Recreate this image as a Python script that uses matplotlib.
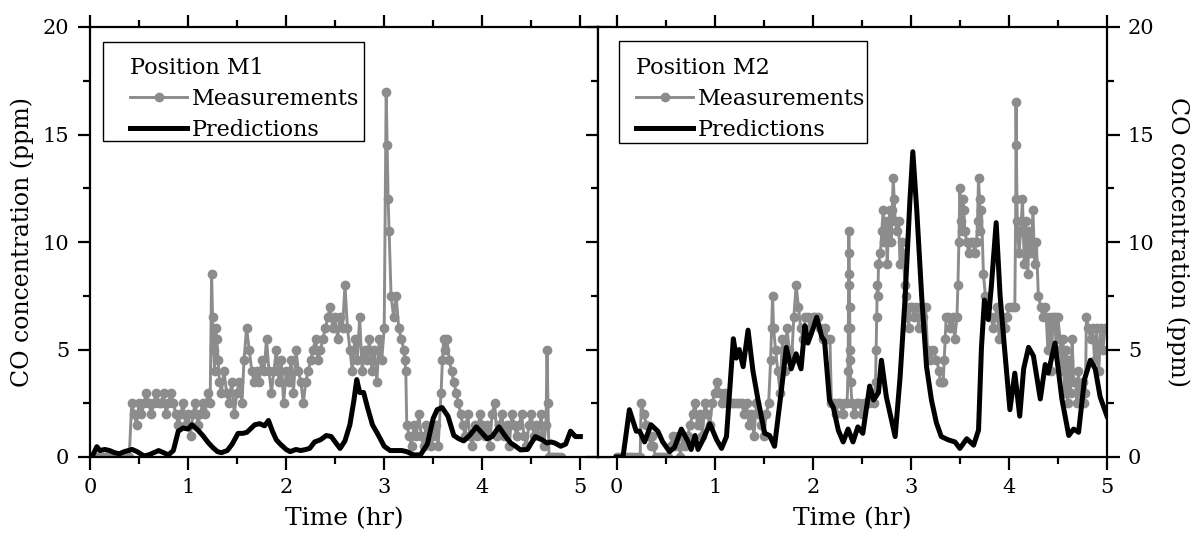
import numpy as np
import matplotlib
matplotlib.use("Agg")
from matplotlib import pyplot as plt
from matplotlib.patches import Rectangle
from matplotlib.ticker import MultipleLocator

plt.rc("font", family="DejaVu Serif", size=15)

# measured CO (ppm), read off the figure as runs of samples:
# (start hr, end hr, values spread evenly over the run)
m1_runs = [
    (0.00, 0.40, [0] * 17),
    (0.425, 0.85, [2.5, 2, 1.5, 2.5, 2, 2.5, 3, 2.5, 2, 2.5, 3, 2.5, 2.5, 3, 2, 2.5, 3, 2.5]),
    (0.875, 1.225, [2, 1.5, 2, 2.5, 1.5, 2, 1, 2, 2.5, 1.5, 2, 2.5, 2, 3, 2.5]),
    (1.24, 1.27, [8.5, 6.5, 5, 4]),
    (1.28, 1.32, [6, 5.5, 4.5, 3.5]),
    (1.34, 1.55, [3, 4, 3, 2.5, 3.5, 2, 3, 3.5, 2.5]),
    (1.57, 1.65, [4.5, 6, 5, 4]),
    (1.675, 2.0, [3.5, 4, 3.5, 4.5, 4, 5.5, 4, 3, 4, 5, 3.5, 4.5, 2.5, 4]),
    (2.025, 2.25, [3.5, 4.5, 3, 5, 4, 3.5, 2.5, 3.5, 4, 4.5]),
    (2.275, 2.375, [5, 5.5, 4.5, 5, 5.5]),
    (2.40, 2.575, [6, 6.5, 7, 6, 6.5, 5.5, 6.5, 6]),
    (2.60, 2.625, [8, 6]),
    (2.65, 3.0, [5, 4, 5.5, 4.5, 6.5, 4, 5, 4.5, 5.5, 4, 5, 3.5, 5.5, 4.5, 6]),
    (3.02, 3.05, [17, 14.5, 12, 10.5]),
    (3.07, 3.20, [7.5, 6.5, 7.5, 6, 5.5, 5]),
    (3.21, 3.22, [4.5, 4]),
    (3.23, 3.55, [1.5, 1, 0.5, 1.5, 1, 2, 1, 0.5, 1.5, 1, 0.5, 1, 1.5, 0.5]),
    (3.58, 3.62, [3, 4.5, 5.5, 5]),
    (3.64, 3.78, [5.5, 4.5, 4, 3.5, 3, 2.5, 2]),
    (3.80, 4.65, [1.5, 1, 2, 1, 0.5, 1.5, 1, 2, 1.5, 1, 1.5, 0.5, 2, 2.5, 1, 1.5, 2, 1,
                  1.5, 0.5, 2, 1.5, 1, 1.5, 2, 1, 0.5, 1.5, 2, 1, 1.5, 1, 2, 0.5, 1.5]),
    (4.66, 4.68, [5, 2.5, 0]),
    (4.70, 4.80, [0] * 5),
]

m2_runs = [
    (0.00, 0.24, [0] * 10),
    (0.25, 0.33, [2.5, 2, 1.5, 1]),
    (0.35, 0.37, [0.5, 1, 0.5]),
    (0.40, 0.525, [0] * 6),
    (0.55, 0.725, [0.5, 1, 0.5, 1, 0, 1, 0.5, 1]),
    (0.75, 0.95, [1.5, 2, 2.5, 1.5, 2, 1, 2.5, 2, 1.5]),
    (0.975, 1.125, [2.5, 3, 3.5, 3, 2.5, 3, 2.5]),
    (1.15, 1.55, [2.5, 2.5, 2.5, 2.5, 2.5, 2.5, 2, 2.5, 1.5, 2, 1, 2.5, 2, 1.5, 1, 2, 2.5]),
    (1.57, 1.60, [4.5, 6, 7.5, 6]),
    (1.62, 1.90, [5, 4, 3, 5.5, 4, 6, 5, 4.5, 6.5, 8, 7, 6, 5.5]),
    (1.925, 2.175, [6.5, 6.5, 6, 6.5, 6.5, 6.5, 6, 5.5, 6, 5.5, 5.5]),
    (2.19, 2.35, [2.5, 2.5, 2, 2.5, 2.5, 2, 2.5, 2.5]),
    (2.36, 2.385, [4, 6, 8, 10.5, 9.5, 8.5, 7, 6, 5, 4.5, 3.5]),
    (2.40, 2.625, [2.5, 2, 2.5, 2.5, 2, 2.5, 2.5, 2.5, 3, 2.5]),
    (2.64, 2.67, [3.5, 5, 6.5, 8, 7.5, 9]),
    (2.69, 2.80, [9.5, 10.5, 11.5, 10, 11, 9, 10.5, 11.5, 10]),
    (2.81, 2.84, [11.5, 13, 12, 11]),
    (2.86, 2.92, [10.5, 11, 9, 10, 9.5]),
    (2.94, 2.99, [8, 7.5, 6.5, 6, 7]),
    (3.01, 3.15, [7, 6.5, 7, 6, 7, 6.5, 7]),
    (3.17, 3.29, [5, 4.5, 5, 4.5, 4]),
    (3.30, 3.33, [3.5, 3.5, 3.5]),
    (3.34, 3.36, [4.5, 5.5, 6.5]),
    (3.38, 3.47, [6.5, 6, 6.5, 5.5, 6.5]),
    (3.48, 3.50, [8, 10, 12.5]),
    (3.51, 3.55, [11, 10.5, 12, 11.5, 10.5]),
    (3.57, 3.67, [10, 9.5, 10, 10, 9.5, 10]),
    (3.68, 3.72, [11, 13, 12, 10.5, 11.5]),
    (3.74, 3.80, [8.5, 7.5, 7, 6.5]),
    (3.82, 3.98, [6.5, 6, 6.5, 7, 5.5, 6.5, 6.5, 6, 6.5]),
    (4.00, 4.06, [7, 7, 7]),
    (4.07, 4.075, [12, 16.5, 14.5]),
    (4.085, 4.28, [11, 9.5, 10.5, 12, 9, 11, 8.5, 10.5, 9.5, 11.5, 9, 10]),
    (4.30, 4.37, [7.5, 7, 6.5, 7]),
    (4.38, 4.50, [6.5, 5, 6.5, 4, 6.5, 6.5, 5, 6.5]),
    (4.52, 4.66, [5.5, 4, 5.5, 3, 5, 2.5, 4.5, 3, 5.5, 3.5]),
    (4.68, 4.78, [3.5, 2.5, 4, 3, 2.5, 3.5, 2.5, 3]),
    (4.79, 5.0, [6.5, 6, 5.5, 6, 4.5, 6, 4, 6, 5, 6, 6]),
]

# model predictions (ppm)
p1_t = [0, 0.03, 0.07, 0.1, 0.15, 0.2, 0.25, 0.3, 0.35, 0.43,
        0.48, 0.55, 0.6, 0.65, 0.7, 0.75, 0.8, 0.85, 0.9, 0.95,
        1.0, 1.04, 1.1, 1.15, 1.2, 1.25, 1.3, 1.34, 1.4, 1.45,
        1.51, 1.56, 1.6, 1.68, 1.73, 1.78, 1.82, 1.86, 1.9, 1.94,
        2.0, 2.04, 2.1, 2.15, 2.2, 2.24, 2.29, 2.35, 2.41, 2.46,
        2.5, 2.55, 2.6, 2.65, 2.69, 2.72, 2.75, 2.79, 2.83, 2.88,
        2.93, 3.0, 3.06, 3.12, 3.18, 3.23, 3.3, 3.37, 3.44, 3.5,
        3.54, 3.59, 3.65, 3.71, 3.76, 3.81, 3.87, 3.94, 4.0, 4.05,
        4.1, 4.17, 4.23, 4.29, 4.34, 4.39, 4.46, 4.54, 4.61, 4.66,
        4.7, 4.74, 4.8, 4.85, 4.9, 4.95, 5.0]
p1_v = [0, 0.1, 0.48, 0.3, 0.35, 0.3, 0.2, 0.15, 0.25, 0.35,
        0.25, 0.05, 0.1, 0.2, 0.3, 0.2, 0.1, 0.3, 1.2, 1.35,
        1.3, 1.5, 1.25, 1.0, 0.7, 0.45, 0.25, 0.2, 0.3, 0.6,
        1.1, 1.1, 1.15, 1.5, 1.55, 1.45, 1.7, 1.2, 0.8, 0.6,
        0.35, 0.25, 0.35, 0.3, 0.35, 0.4, 0.7, 0.8, 1.0, 0.95,
        0.7, 0.4, 0.75, 1.5, 2.6, 3.6, 3.0, 3.0, 2.3, 1.5,
        1.1, 0.5, 0.3, 0.3, 0.3, 0.25, 0.1, 0.1, 0.6, 1.8,
        2.2, 2.3, 1.9, 1.0, 0.85, 0.75, 1.0, 1.4, 1.1, 0.85,
        0.95, 1.4, 1.0, 0.65, 0.5, 0.33, 0.35, 0.95, 0.8, 0.65,
        0.7, 0.65, 0.5, 0.6, 1.2, 0.95, 0.95]

p2_t = [0, 0.065, 0.13, 0.2, 0.235, 0.285, 0.35, 0.42, 0.47, 0.54,
        0.59, 0.66, 0.73, 0.76, 0.8, 0.83, 0.88, 0.95, 1.02, 1.07,
        1.12, 1.19, 1.22, 1.25, 1.29, 1.34, 1.39, 1.44, 1.51, 1.56,
        1.61, 1.68, 1.73, 1.78, 1.83, 1.88, 1.92, 1.95, 1.99, 2.04,
        2.09, 2.12, 2.17, 2.21, 2.26, 2.31, 2.36, 2.41, 2.46, 2.51,
        2.58, 2.62, 2.67, 2.70, 2.75, 2.84, 2.89, 2.94, 2.99, 3.02,
        3.06, 3.11, 3.16, 3.21, 3.26, 3.31, 3.38, 3.45, 3.5, 3.57,
        3.64, 3.69, 3.72, 3.75, 3.79, 3.82, 3.87, 3.91, 3.96, 4.01,
        4.06, 4.11, 4.15, 4.2, 4.25, 4.32, 4.37, 4.4, 4.47, 4.54,
        4.61, 4.66, 4.71, 4.77, 4.83, 4.88, 4.93, 5.0]
p2_v = [0, 0, 2.2, 1.2, 1.2, 0.7, 1.5, 1.2, 0.7, 0.25,
        0.45, 1.3, 0.7, 0.35, 1.0, 0.35, 0.8, 1.55, 0.8, 0.4,
        0.95, 5.5, 4.6, 5.0, 4.2, 5.9, 4.0, 2.7, 1.1, 1.0,
        0.5, 3.1, 5.1, 4.1, 4.8, 4.1, 6.1, 5.3, 5.8, 6.5,
        5.6, 5.4, 2.65, 2.3, 1.25, 0.7, 1.3, 0.7, 1.4, 1.1,
        3.3, 2.65, 3.0, 4.5, 2.8, 0.95, 3.7, 7.3, 11.9, 14.2,
        11.5, 7.5, 4.2, 2.65, 1.6, 0.95, 0.8, 0.7, 0.4, 0.85,
        0.55, 1.25, 5.1, 7.3, 6.4, 7.9, 10.9, 7.5, 4.8, 2.2,
        3.9, 1.9, 4.1, 5.1, 4.7, 2.7, 4.3, 3.9, 5.3, 2.7,
        1.0, 1.3, 1.15, 3.6, 4.5, 4.1, 2.8, 1.9]


def unroll(runs):
    t, v = [], []
    for t0, t1, vals in runs:
        t.extend(np.linspace(t0, t1, len(vals)))
        v.extend(vals)
    return np.array(t), np.array(v)


fig = plt.figure(figsize=(12.01, 5.36), dpi=100)
W, H = 1201, 536
ax1 = fig.add_axes([90 / W, 79 / H, 508 / W, 430 / H])
ax2 = fig.add_axes([598 / W, 79 / H, 509 / W, 430 / H])

# (axes, runs, pred t, pred v, legend title, xlim, legend frame box, legend anchor)
panels = [
    (ax1, m1_runs, p1_t, p1_v, "Position M1", (0, 5.18),
     (0.0256, 0.735, 0.5138, 0.230), (0.0787, 0.930)),
    (ax2, m2_runs, p2_t, p2_v, "Position M2", (-0.19, 5.0),
     (0.0413, 0.730, 0.4872, 0.237), (0.0747, 0.930)),
]

for ax, runs, pt, pv, title, xlim, box, anchor in panels:
    mt, mv = unroll(runs)
    ax.plot(mt, mv, color="#8c8c8c", lw=2.1, marker="o", ms=6,
            label="Measurements", zorder=2)
    ax.plot(pt, pv, color="black", lw=3.6, label="Predictions", zorder=3,
            solid_joinstyle="round")
    ax.set_xlim(*xlim)
    ax.set_ylim(0, 20)
    ax.xaxis.set_major_locator(MultipleLocator(1))
    ax.xaxis.set_minor_locator(MultipleLocator(0.5))
    ax.yaxis.set_major_locator(MultipleLocator(5))
    ax.yaxis.set_minor_locator(MultipleLocator(2.5))
    ax.tick_params(which="both", direction="out", top=True, right=True,
                   left=True, bottom=True, width=1.6)
    ax.tick_params(which="major", length=9, pad=6)
    ax.tick_params(which="minor", length=5)
    for sp in ax.spines.values():
        sp.set_linewidth(1.6)
    ax.set_xlabel("Time (hr)", fontsize=18, labelpad=7.5)

    ax.add_patch(Rectangle(box[:2], box[2], box[3], transform=ax.transAxes,
                           facecolor="white", edgecolor="black", lw=1.0,
                           zorder=4))
    leg = ax.legend(title=title, loc="upper left", bbox_to_anchor=anchor,
                    borderaxespad=0, borderpad=0, frameon=False,
                    handlelength=2.57, handletextpad=0.23,
                    labelspacing=0.40, alignment="left",
                    fontsize=16, title_fontsize=16)
    leg.set_zorder(5)

ax1.set_ylabel("CO concentration (ppm)", fontsize=17, labelpad=6)
ax1.tick_params(labelleft=True, labelright=False)
ax2.tick_params(labelleft=False, labelright=True)
ax2.yaxis.set_label_position("right")
ax2.set_ylabel("CO concentration (ppm)", fontsize=17, rotation=270,
               va="bottom", labelpad=8)

fig.savefig("out.png", dpi=100)
